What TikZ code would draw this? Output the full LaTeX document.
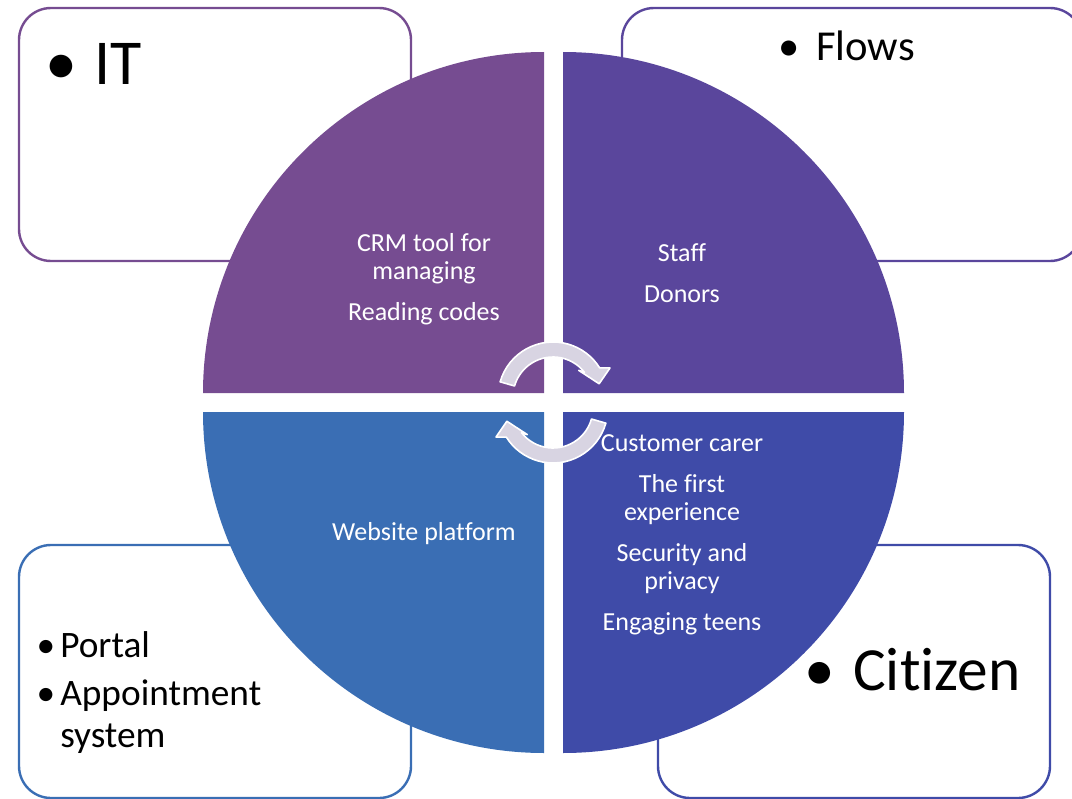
\documentclass[tikz,border=0pt]{standalone}
\usepackage{fontspec}
\setmainfont{Carlito}[Ligatures={NoCommon}]
\definecolor{quadTL}{HTML}{764C91}
\definecolor{quadTR}{HTML}{5A469C}
\definecolor{quadBL}{HTML}{3A6EB4}
\definecolor{quadBR}{HTML}{3F4BA8}
\definecolor{arrowgray}{HTML}{D8D4E2}
\tikzstyle{listbox}=[line width=1.8pt, fill=white, rounded corners=24pt]
\tikzstyle{quadtext}=[text=white, align=center, inner sep=0pt, font=\fontsize{19.5}{21}\selectfont]
\tikzstyle{boxtext}=[anchor=base west, inner sep=0pt]
\tikzstyle{dot}=[anchor=base, inner sep=0pt]
\tikzstyle{cyclearrow}=[fill=arrowgray, draw=white, line width=1.2pt, line join=round]

\begin{document}
\begin{tikzpicture}[x=0.75pt, y=-0.75pt]
\useasboundingbox (0,0) rectangle (1072,799);
\clip (0,0) rectangle (1072,799);
% Boxes
    \draw[listbox, draw=quadTL] (19,8) rectangle (411,261);
    \draw[listbox, draw=quadTR] (622,8) rectangle (1082,261);
    \draw[listbox, draw=quadBL] (19,545) rectangle (411,798);
    \draw[listbox, draw=quadBR] (658,545) rectangle (1050,798);
% Quadrants
    \fill[quadTL] (544,393) -- (203,393) arc (180:270:341) -- cycle;
    \fill[quadTR] (563,393) -- (563,52) arc (270:360:341) -- cycle;
    \fill[quadBR] (563,412) -- (904,412) arc (0:90:341) -- cycle;
    \fill[quadBL] (544,412) -- (544,753) arc (90:180:341) -- cycle;
% Cycle arrows
    \begin{scope}[shift={(553,397)}]
        \filldraw[cyclearrow] (196:55) arc (196:328:55) -- (333:64) -- (344:48) -- (314:37) -- (322:40) arc (322:196:40) -- cycle;
    \end{scope}
    \begin{scope}[shift={(553,408)}, rotate=180]
        \filldraw[cyclearrow] (196:55) arc (196:328:55) -- (333:64) -- (344:48) -- (314:37) -- (322:40) arc (322:196:40) -- cycle;
    \end{scope}
% Quadrant texts
    \node[quadtext] (crm) at (424,279) {CRM tool for\\managing\\[9.75pt]Reading codes};
    \node[quadtext] (staff) at (682,273) {Staff\\[9.75pt]Donors};
    \node[quadtext] (carer) at (682,535) {Customer carer\\[9.75pt]The first\\experience\\[9.75pt]Security and\\privacy\\[9.75pt]Engaging teens};
    \node[quadtext] (web) at (424,534) {Website platform};
% Box texts
    \node[dot, font=\fontsize{48}{58}\selectfont] (itdot) at (61,85) {\textbullet};
    \node[boxtext, font=\fontsize{48}{58}\selectfont] (it) at (94,85) {IT};
    \node[dot, font=\fontsize{32}{39}\selectfont] (flowsdot) at (789,61) {\textbullet};
    \node[boxtext, font=\fontsize{32}{39}\selectfont] (flows) at (816,61) {Flows};
    \node[dot, font=\fontsize{28}{34}\selectfont] (portaldot) at (46,657) {\textbullet};
    \node[boxtext, font=\fontsize{28}{34}\selectfont] (portal) at (60,657) {Portal};
    \node[dot, font=\fontsize{28}{34}\selectfont] (appointdot) at (46,705) {\textbullet};
    \node[boxtext, font=\fontsize{28}{34}\selectfont] (appoint) at (60,705) {Appointment};
    \node[boxtext, font=\fontsize{28}{34}\selectfont] (system) at (60,747) {system};
    \node[dot, font=\fontsize{46}{55}\selectfont] (citizendot) at (820,690) {\textbullet};
    \node[boxtext, font=\fontsize{46}{55}\selectfont] (citizen) at (853,690) {Citizen};
\end{tikzpicture}
\end{document}
